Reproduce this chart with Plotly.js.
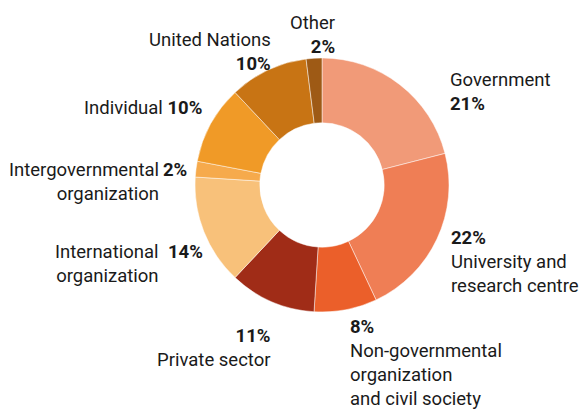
<!DOCTYPE html>
<html>
<head>
<meta charset="utf-8">
<script src="https://cdn.plot.ly/plotly-3.0.1.min.js"></script>
<style>html,body{margin:0;padding:0;background:#fff;}#chart{width:581px;height:409px;}</style>
</head>
<body>
<div id="chart"></div>
<script>
// Data (clockwise from 12 o'clock)
var categories = ["Government", "University and research centre", "Non-governmental organization and civil society", "Private sector", "International organization", "Intergovernmental organization", "Individual", "United Nations", "Other"];
var values = [21, 22, 8, 11, 14, 2, 10, 10, 2];
var sliceColors = ["#F19A78", "#EF7E55", "#EB5F2A", "#A02C17", "#F8C17A", "#F6AA4C", "#F09A27", "#C87414", "#9E5A15"];
// Display label lines for each category
var labelLines = [
  ["Government"],
  ["University and", "research centre"],
  ["Non-governmental", "organization", "and civil society"],
  ["Private sector"],
  ["International", "organization"],
  ["Intergovernmental", "organization"],
  ["Individual"],
  ["United Nations"],
  ["Other"]
];

var W = 581, H = 409;
var cx = 322, cy = 185, R = 127;
var fontFam = "Roboto, 'Open Sans', sans-serif";
var txtColor = "#1a1a1a";

function pct(i){ return "<b>" + values[i] + "%</b>"; }
function px(x){ return x / W; }
function py(y){ return 1 - y / H; }

var place = [
  {i:0, mode:"labelFirst", x:449, y:92, anchor:"left"},
  {i:1, mode:"pctFirst", x:450, y:261.5, anchor:"left"},
  {i:2, mode:"pctFirst", x:349, y:362.5, anchor:"left"},
  {i:3, mode:"pctFirst", x:272, y:347.5, anchor:"right"},
  {i:4, mode:"split", x:160, y:263.5, px:167, py:252},
  {i:5, mode:"split", x:160, y:181.5, px:162, py:170},
  {i:6, mode:"inline", x:203, y:108, anchor:"right"},
  {i:7, mode:"labelFirst", x:272, y:51.5, anchor:"right"},
  {i:8, mode:"labelFirst", x:336, y:35, anchor:"right"}
];

var annotations = [];
place.forEach(function(p){
  var i = p.i, lines = labelLines[i], text, base = {
    xref:"paper", yref:"paper", showarrow:false, borderpad:0,
    font:{family:fontFam, size:18.5, color:txtColor}, yanchor:"middle"
  };
  if (p.mode === "split") {
    annotations.push(Object.assign({}, base, {x:px(p.x), y:py(p.y), xanchor:"right", align:"right", text:lines.join("<br>")}));
    annotations.push(Object.assign({}, base, {x:px(p.px), y:py(p.py), xanchor:"left", align:"left", text:pct(i)}));
    return;
  }
  if (p.mode === "labelFirst") text = lines.join("<br>") + "<br>" + pct(i);
  else if (p.mode === "pctFirst") text = pct(i) + "<br>" + lines.join("<br>");
  else text = lines.join(" ") + " " + pct(i);
  annotations.push(Object.assign({}, base, {x:px(p.x), y:py(p.y), xanchor:p.anchor, align:p.anchor, text:text}));
});

var trace = {
  type:"pie",
  labels:categories,
  values:values,
  sort:false,
  direction:"clockwise",
  rotation:0,
  hole:0.49,
  textinfo:"none",
  hoverinfo:"label+percent",
  marker:{colors:sliceColors, line:{color:"rgba(255,255,255,0.6)", width:0.8}},
  domain:{x:[(cx-R)/W, (cx+R)/W], y:[1-(cy+R)/H, 1-(cy-R)/H]},
  showlegend:false
};

var layout = {
  width:W, height:H,
  margin:{l:0, r:0, t:0, b:0},
  paper_bgcolor:"#ffffff",
  plot_bgcolor:"#ffffff",
  showlegend:false,
  annotations:annotations
};

Plotly.newPlot("chart", [trace], layout, {displayModeBar:false, staticPlot:true});
</script>
</body>
</html>
